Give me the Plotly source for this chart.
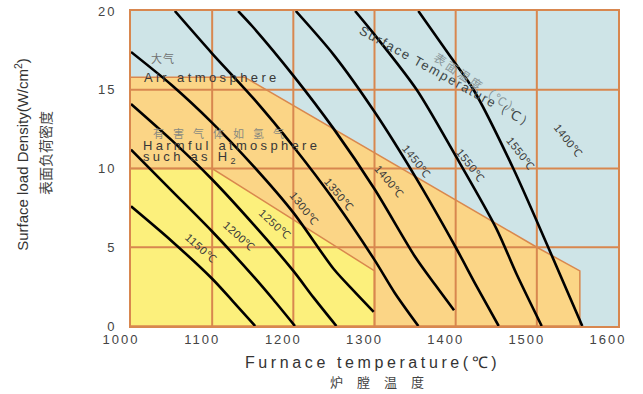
import plotly.graph_objects as go

# ---------------- data ----------------
x_ticks = [1000, 1100, 1200, 1300, 1400, 1500, 1600]
y_ticks = [0, 5, 10, 15, 20]

# permitted region for air atmosphere (orange) and harmful atmosphere (yellow)
air_x = [1000, 1140, 1500, 1553, 1553, 1000]
air_y = [15.8, 15.8, 5.0, 3.5, 0, 0]
h2_x = [1000, 1100, 1300, 1300, 1000]
h2_y = [10.0, 10.0, 3.5, 0, 0]

# surface-temperature curves (furnace temp, load density)
c1150_x = [1000, 1050, 1100, 1125, 1153]
c1150_y = [7.6, 5.4, 3.0, 1.6, 0]
c1200_x = [1000, 1050, 1100, 1150, 1175, 1202]
c1200_y = [11.2, 8.6, 6.0, 3.2, 1.7, 0]
c1250_x = [1000, 1050, 1100, 1150, 1200, 1225, 1253]
c1250_y = [14.1, 11.8, 9.3, 6.5, 3.5, 1.8, 0]
c1300_x = [1000, 1050, 1100, 1150, 1200, 1250, 1275, 1299]
c1300_y = [17.4, 15.3, 12.9, 10.2, 7.2, 3.6, 2.2, 0.9]
c1350_x = [1054, 1100, 1150, 1200, 1250, 1300, 1325, 1354]
c1350_y = [20.0, 17.3, 14.5, 11.4, 8.0, 4.2, 2.1, 0]
c1400_x = [1132, 1150, 1200, 1250, 1300, 1350, 1375, 1398]
c1400_y = [20.0, 19.0, 15.9, 12.5, 8.7, 4.4, 2.6, 1.0]
c1450_x = [1203, 1250, 1300, 1350, 1400, 1425, 1453]
c1450_y = [20.0, 17.2, 13.6, 9.5, 5.0, 2.6, 0]
c1500_x = [1276, 1300, 1352, 1400, 1450, 1475, 1506]
c1500_y = [20.0, 18.5, 15.0, 10.8, 6.2, 3.3, 0]
c1550_x = [1354, 1395, 1422, 1471, 1514, 1556]
c1550_y = [20.0, 17.0, 15.0, 10.0, 5.0, 0]

curves = [
    (c1150_x, c1150_y), (c1200_x, c1200_y), (c1250_x, c1250_y),
    (c1300_x, c1300_y), (c1350_x, c1350_y), (c1400_x, c1400_y),
    (c1450_x, c1450_y), (c1500_x, c1500_y), (c1550_x, c1550_y),
]

# curve labels as printed on the chart
label_text = ["1150℃", "1200℃", "1250℃", "1300℃", "1350℃", "1400℃",
              "1450℃", "1550℃", "1550℃", "1400℃"]
label_x = [1086, 1133, 1177, 1213, 1256, 1318, 1352, 1418, 1480, 1538]
label_y = [4.95, 5.7, 6.5, 7.5, 8.4, 9.2, 10.5, 10.2, 11.0, 11.8]
label_angle = [42, 42, 43, 52, 50, 49, 51, 52, 52, 52]

# ---------------- styling ----------------
BLUE = "#cee4e7"
ORANGE = "#fbd586"
YELLOW = "#fcf07c"
GRID = "#d8874f"
EDGE = "#d9884e"
FONT = "Liberation Sans, Arial, sans-serif"
CJK = "Noto Sans CJK SC, sans-serif"

fig = go.Figure()

fig.add_trace(go.Scatter(x=air_x, y=air_y, fill="toself", fillcolor=ORANGE,
                         mode="lines", line=dict(color=EDGE, width=1.5),
                         hoverinfo="skip", showlegend=False))
fig.add_trace(go.Scatter(x=h2_x, y=h2_y, fill="toself", fillcolor=YELLOW,
                         mode="lines", line=dict(color=EDGE, width=1.5),
                         hoverinfo="skip", showlegend=False))

# grid lines on top of the coloured regions
gx, gy = [], []
for v in x_ticks[1:-1]:
    gx += [v, v, None]
    gy += [y_ticks[0], y_ticks[-1], None]
for v in y_ticks[1:-1]:
    gx += [x_ticks[0], x_ticks[-1], None]
    gy += [v, v, None]
fig.add_trace(go.Scatter(x=gx, y=gy, mode="lines",
                         line=dict(color=GRID, width=2),
                         hoverinfo="skip", showlegend=False))

for cx, cy in curves:
    fig.add_trace(go.Scatter(x=cx, y=cy, mode="lines",
                             line=dict(color="black", width=2.6, shape="spline", smoothing=0.8),
                             hoverinfo="skip", showlegend=False))

def stretched(t, sp):
    return f'<span style="letter-spacing:{sp}px">{t}</span>'

for t, x, y, a in zip(label_text, label_x, label_y, label_angle):
    fig.add_annotation(x=x, y=y, text=stretched(t, 0.6), textangle=a, showarrow=False,
                       xanchor="center", yanchor="middle",
                       font=dict(family=FONT, size=11, color="#3a3a3a"))

def note(x, y, text, size, color, family=FONT, angle=0, xanchor="left", **kw):
    fig.add_annotation(x=x, y=y, text=text, textangle=angle, showarrow=False,
                       xanchor=xanchor, yanchor="middle",
                       font=dict(family=family, size=size, color=color), **kw)

# region labels
note(1022, 17.0, stretched("大气", 1), 11, "#707070", CJK)
note(1013, 15.75, stretched("Air atmosphere", 3.4), 13, "#383838")
note(1025, 12.25, stretched("有害气体如氢气", 9), 11, "#8a8a80", CJK)
note(1012, 11.45, stretched("Harmful atmosphere", 3.3), 13, "#383838")
note(1012, 10.7, stretched("such as H<sub>2</sub>", 3.3), 13, "#383838")
note(1427, 15.4, stretched("表面温度（℃）", 2.5), 12, "#8a979a", CJK, angle=34, xanchor="center")
note(1390, 15.8, stretched("Surface Temperature（℃）", 1.8), 13, "#3c4446", angle=29, xanchor="center")

# axis titles
note(0.495, -0.115, stretched("Furnace temperature(℃)", 3.6), 16, "#333333",
     xanchor="center", xref="paper", yref="paper")
note(0.52, -0.175, stretched("炉膛温度", 14), 13, "#444444", CJK,
     xanchor="center", xref="paper", yref="paper")
note(-0.225, 0.545, "Surface load Density(W/cm<sup>2</sup>)", 15, "#333333",
     angle=-90, xanchor="center", xref="paper", yref="paper")
note(-0.178, 0.55, "表面负荷密度", 14, "#444444", CJK,
     angle=-90, xanchor="center", xref="paper", yref="paper")

fig.update_layout(
    width=643, height=394,
    margin=dict(l=131, r=25, t=11, b=68, autoexpand=False),
    paper_bgcolor="white", plot_bgcolor=BLUE,
    showlegend=False,
)
fig.update_xaxes(range=[1000, 1600], tickvals=x_ticks,
                 ticktext=[stretched(str(v), 2) for v in x_ticks],
                 showgrid=False, zeroline=False, showline=True, mirror=True,
                 linecolor=GRID, linewidth=2, ticks="", ticklabelshift=-10,
                 automargin=False,
                 tickfont=dict(family=FONT, size=13, color="#444444"))
fig.update_yaxes(range=[0, 20], tickvals=y_ticks,
                 ticktext=[stretched(str(v), 2) for v in y_ticks],
                 showgrid=False, zeroline=False, showline=True, mirror=True,
                 linecolor=GRID, linewidth=2, ticks="", ticklabelstandoff=10,
                 automargin=False,
                 tickfont=dict(family=FONT, size=13, color="#444444"))

fig.write_html("out.html", config={"displayModeBar": False},
               post_script="document.body.style.margin='0';document.body.style.overflow='hidden';")
